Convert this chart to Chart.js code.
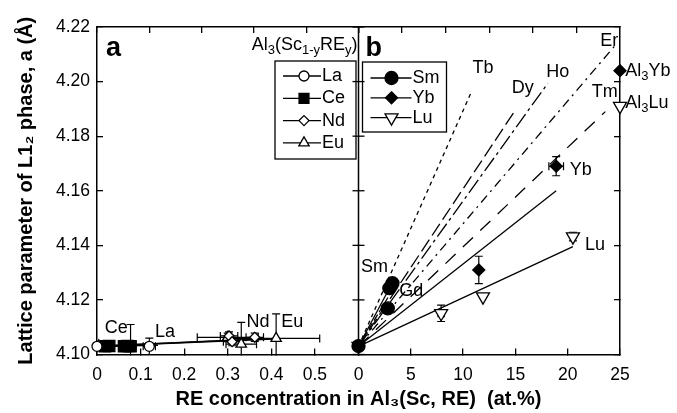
<!DOCTYPE html>
<html><head><meta charset="utf-8">
<script src="https://cdn.jsdelivr.net/npm/chart.js@4.4.1/dist/chart.umd.min.js"></script>
<style>html,body{margin:0;padding:0;background:#fff;}#wrap{width:677px;height:413px;}</style>
</head><body><div id="wrap"><canvas id="c" width="677" height="413"></canvas></div>
<script>
// ================= DATA =================
const yTicks  = [4.10, 4.12, 4.14, 4.16, 4.18, 4.20, 4.22];
const xTicksA = [0, 0.1, 0.2, 0.3, 0.4, 0.5];
const xTicksB = [0, 5, 10, 15, 20, 25];

// panel a : Al3(Sc1-yREy) measured points
const laX = [0, 0.12],            laY = [4.1030, 4.1030];
const laYErr = [0, 0.003],        laXErr = [0, 0.014];
const ceX = [0.018, 0.028, 0.062, 0.070, 0.077], ceY = [4.1030, 4.1031, 4.1030, 4.1031, 4.1030];
const ceYErr = [0, 0, 0, 0, 0.008],            ceXErr = [0.010, 0.010, 0.012, 0.012, 0.012];
const ndX = [0.303, 0.310, 0.362], ndY = [4.1068, 4.1047, 4.1063];
const ndYErr = [0.0015, 0.0015, 0.0015], ndXErr = [0.02, 0.02, 0.02];
const euX = [0.004, 0.300, 0.331, 0.411], euY = [4.1032, 4.1063, 4.1038, 4.1059];
const euYErr = [0, 0.0015, 0.008, 0.009], euXErr = [0, 0.07, 0.035, 0.10];
// panel a fit lines
const laFitX = [0, 0.14],  laFitY = [4.1030, 4.1034];
const ceFitX = [0, 0.09],  ceFitY = [4.1030, 4.1031];
const ndFitX = [0, 0.37],  ndFitY = [4.1030, 4.1057];
const euFitX = [0, 0.42],  euFitY = [4.1030, 4.1058];

// panel b : Al3(Sc,RE) measured points
const smX = [0, 2.8, 2.95, 3.25],  smY = [4.1031, 4.1169, 4.1243, 4.1261];
const ybX = [0, 11.5, 18.9],       ybY = [4.1031, 4.1310, 4.1690];
const ybYErr = [0, 0.005, 0.0035], ybXErr = [0, 0, 0.7];
const luX = [0, 7.9, 11.9, 20.5],  luY = [4.1031, 4.1151, 4.1212, 4.1432];
const luYErr = [0, 0.003, 0, 0.0016], luXErr = [0, 0.3, 0, 0];
const al3X = [25], al3YbY = [4.204], al3LuY = [4.191];
// panel b fit lines
const smFitX = [0, 3.4],  smFitY = [4.103, 4.1275];
const ybFitX = [0, 18.9], ybFitY = [4.103, 4.160];
const luFitX = [0, 20.5], luFitY = [4.103, 4.1395];
// panel b predicted lines
const gdX = [0, 3.7],   gdY = [4.103, 4.1265];
const tbX = [0, 10.8],  tbY = [4.103, 4.1963];
const dyX = [0, 15.0],  dyY = [4.103, 4.1896];
const hoX = [0, 18.1],  hoY = [4.103, 4.1994];
const erX = [0, 24.7],  erY = [4.103, 4.2140];
const tmX = [0, 23.6],  tmY = [4.103, 4.1890];

// text
const yTitle = 'Lattice parameter of L1\u2082 phase, a (\u00C5)';
const xTitle = 'RE concentration in Al\u2083(Sc, RE)  (at.%)';
const legendATitle = [['Al'],['3',1],['(Sc'],['1-y',1],['RE'],['y',1],[')']];

// ================= CHART =================
const F = '"Liberation Sans", Arial, Helvetica, sans-serif';
const pts = (xs, ys) => xs.map((x, i) => ({x, y: ys[i]}));

function mk(label, xs, ys, axis, style, r, fill, extra) {
  return Object.assign({label, type:'scatter', data: pts(xs, ys), xAxisID: axis, yAxisID: 'y',
    pointStyle: style, pointRadius: r, pointHoverRadius: r, pointBackgroundColor: fill,
    pointBorderColor: '#000', pointBorderWidth: 1.3, showLine: false, clip: false, order: 1}, extra || {});
}
function ln(xs, ys, axis, dash, w) {
  return {type:'scatter', data: pts(xs, ys), xAxisID: axis, yAxisID: 'y', showLine: true, pointRadius: 0,
    borderColor: '#000', borderWidth: w || 1.3, borderDash: dash || [], fill: false, order: 2, clip: false};
}

const datasets = [
  mk('La', laX, laY, 'x', 'circle', 5, '#fff', {errY: laYErr, errX: laXErr}),
  mk('Ce', ceX, ceY, 'x', 'rect', 8, '#000', {errY: ceYErr, errX: ceXErr}),
  mk('Nd', ndX, ndY, 'x', 'rectRot', 5, '#fff', {errY: ndYErr, errX: ndXErr}),
  mk('Eu', euX, euY, 'x', 'triangle', 6, '#fff', {errY: euYErr, errX: euXErr}),
  mk('Sm', smX, smY, 'x2', 'circle', 6.5, '#000'),
  mk('Yb', ybX, ybY, 'x2', 'rectRot', 6, '#000', {errY: ybYErr, errX: ybXErr}),
  mk('Lu', luX, luY, 'x2', 'triangle', 7.5, '#fff', {errY: luYErr, errX: luXErr, rotation: 180}),
  mk('Al3Yb', al3X, al3YbY, 'x2', 'rectRot', 6, '#000'),
  mk('Al3Lu', al3X, al3LuY, 'x2', 'triangle', 7.5, '#fff', {rotation: 180}),
  ln(laFitX, laFitY, 'x', [], 1.6), ln(ceFitX, ceFitY, 'x', [], 1.6), ln(ndFitX, ndFitY, 'x', [], 1.6), ln(euFitX, euFitY, 'x', [], 1.6),
  ln(smFitX, smFitY, 'x2'), ln(ybFitX, ybFitY, 'x2'), ln(luFitX, luFitY, 'x2'),
  ln(gdX, gdY, 'x2', [7, 3]),
  ln(tbX, tbY, 'x2', [4, 4]),
  ln(dyX, dyY, 'x2', [14, 5]),
  ln(hoX, hoY, 'x2', [16, 4, 3, 4]),
  ln(erX, erY, 'x2', [9, 5, 2, 5]),
  ln(tmX, tmY, 'x2', [14, 10])
];

const tickFont = {family: F, size: 17.5};
const titleFont = {family: F, size: 20, weight: 'bold'};
const gridIn = {display: true, drawOnChartArea: false, drawTicks: true, tickLength: -6, color: '#000', lineWidth: 1.3};
const border = {display: true, color: '#000', width: 1.5};
const setTicks = arr => s => { s.ticks = arr.map(v => ({value: v})); };
const fmt = v => (Math.round(v * 100) / 100).toString();

function xAxis(pos, stack, max, ticksArr, showLabels, h) {
  return {type: 'linear', position: pos, stack, stackWeight: 1, min: 0, max,
    afterBuildTicks: setTicks(ticksArr),
    ticks: {display: showLabels, font: tickFont, color: '#000', padding: 16, maxRotation: 0, autoSkip: false,
      callback: v => fmt(v)},
    grid: gridIn, border, afterFit: s => { s.height = h; }};
}

// annotations (data coordinates, left aligned)
const annotations = [
  {axis: 'x',  x: 0.018, y: 4.1097, t: [['Ce']]},
  {axis: 'x',  x: 0.133, y: 4.1084, t: [['La']]},
  {axis: 'x',  x: 0.343, y: 4.1120, t: [['Nd']]},
  {axis: 'x',  x: 0.4225, y: 4.1119, t: [['Eu']]},
  {axis: 'x2', x: 10.9, y: 4.2048, t: [['Tb']]},
  {axis: 'x2', x: 14.65, y: 4.1978, t: [['Dy']]},
  {axis: 'x2', x: 17.95, y: 4.2036, t: [['Ho']]},
  {axis: 'x2', x: 23.1, y: 4.2150, t: [['Er']]},
  {axis: 'x2', x: 22.3, y: 4.1963, t: [['Tm']]},
  {axis: 'x2', x: 0.25, y: 4.1320, t: [['Sm']]},
  {axis: 'x2', x: 3.9, y: 4.1232, t: [['Gd']]},
  {axis: 'x2', x: 20.2, y: 4.1676, t: [['Yb']]},
  {axis: 'x2', x: 21.65, y: 4.1401, t: [['Lu']]},
  {axis: 'x2', x: 25.5, y: 4.2039, t: [['Al'], ['3', 1], ['Yb']]},
  {axis: 'x2', x: 25.5, y: 4.1923, t: [['Al'], ['3', 1], ['Lu']]}
];

function richWidth(ctx, segs, size) {
  let w = 0;
  for (const s of segs) { ctx.font = (s[1] ? Math.round(size * 0.7) : size) + 'px ' + F; w += ctx.measureText(s[0]).width; }
  return w;
}
function drawRich(ctx, segs, x, y, size, align) {
  let w = richWidth(ctx, segs, size);
  let cx = align === 'right' ? x - w : x;
  ctx.textBaseline = 'middle'; ctx.textAlign = 'left'; ctx.fillStyle = '#000';
  for (const s of segs) {
    const sub = !!s[1];
    ctx.font = (sub ? Math.round(size * 0.7) : size) + 'px ' + F;
    ctx.fillText(s[0], cx, sub ? y + size * 0.3 : y);
    cx += ctx.measureText(s[0]).width;
  }
}
function marker(ctx, style, x, y, r, fill, rot) {
  ctx.save(); ctx.beginPath(); ctx.lineWidth = 1.3; ctx.strokeStyle = '#000'; ctx.fillStyle = fill;
  ctx.translate(x, y); if (rot) ctx.rotate(rot * Math.PI / 180);
  if (style === 'circle') ctx.arc(0, 0, r, 0, Math.PI * 2);
  else if (style === 'rect') { const s = r * Math.SQRT1_2; ctx.rect(-s, -s, 2 * s, 2 * s); }
  else if (style === 'rectRot') { ctx.moveTo(0, -r); ctx.lineTo(r, 0); ctx.lineTo(0, r); ctx.lineTo(-r, 0); ctx.closePath(); }
  else if (style === 'triangle') { for (let k = 0; k < 3; k++) { const a = -Math.PI / 2 + k * 2 * Math.PI / 3; k ? ctx.lineTo(r * Math.cos(a), r * Math.sin(a)) : ctx.moveTo(r * Math.cos(a), r * Math.sin(a)); } ctx.closePath(); }
  ctx.fill(); ctx.stroke(); ctx.restore();
}

const deco = {
  id: 'deco',
  beforeDatasetsDraw(chart) {
    const ctx = chart.ctx, ca = chart.chartArea, ys = chart.scales.y;
    ctx.save(); ctx.beginPath(); ctx.rect(ca.left, ca.top, ca.right - ca.left, ca.bottom - ca.top + 1); ctx.clip();
    ctx.strokeStyle = '#000'; ctx.lineWidth = 1.2;
    chart.data.datasets.forEach(ds => {
      if (!ds.errY && !ds.errX) return;
      const xs = chart.scales[ds.xAxisID];
      ds.data.forEach((p, i) => {
        const px = xs.getPixelForValue(p.x), py = ys.getPixelForValue(p.y);
        const ey = ds.errY ? ds.errY[i] : 0, ex = ds.errX ? ds.errX[i] : 0;
        ctx.beginPath();
        if (ey) {
          const a = ys.getPixelForValue(p.y + ey), b = ys.getPixelForValue(p.y - ey);
          ctx.moveTo(px, a); ctx.lineTo(px, b);
          ctx.moveTo(px - 4, a); ctx.lineTo(px + 4, a);
          ctx.moveTo(px - 4, b); ctx.lineTo(px + 4, b);
        }
        if (ex) {
          const a = xs.getPixelForValue(p.x - ex), b = xs.getPixelForValue(p.x + ex);
          ctx.moveTo(a, py); ctx.lineTo(b, py);
          ctx.moveTo(a, py - 4); ctx.lineTo(a, py + 4);
          ctx.moveTo(b, py - 4); ctx.lineTo(b, py + 4);
        }
        ctx.stroke();
      });
    });
    ctx.restore();
  },
  afterDraw(chart) {
    const ctx = chart.ctx, ca = chart.chartArea, ys = chart.scales.y;
    ctx.save();
    // divider between panels
    const dx = chart.scales.x2.left;
    ctx.strokeStyle = '#000'; ctx.lineWidth = 1.5;
    ctx.beginPath(); ctx.moveTo(dx, ca.top); ctx.lineTo(dx, ca.bottom); ctx.stroke();
    ctx.lineWidth = 1.3;
    yTicks.forEach(v => { const py = ys.getPixelForValue(v); ctx.beginPath(); ctx.moveTo(dx - 6, py); ctx.lineTo(dx + 6, py); ctx.stroke(); });
    // panel labels
    ctx.fillStyle = '#000'; ctx.font = 'bold 27px ' + F; ctx.textAlign = 'left'; ctx.textBaseline = 'alphabetic';
    ctx.fillText('a', ca.left + 9, ca.top + 29);
    ctx.fillText('b', dx + 7, ca.top + 29);
    // annotations
    annotations.forEach(a => {
      const px = chart.scales[a.axis].getPixelForValue(a.x), py = ys.getPixelForValue(a.y);
      drawRich(ctx, a.t, px, py, 18, 'left');
    });
    // legends
    const dsBy = l => chart.data.datasets.find(d => d.label === l);
    const drawLegend = (labels, bx, by, bw, bh, y0, step, lx0, lx1, mx, tx) => {
      ctx.lineWidth = 1.3; ctx.strokeStyle = '#000';
      ctx.strokeRect(bx, by, bw, bh);
      labels.forEach((l, i) => {
        const d = dsBy(l), yy = y0 + i * step;
        ctx.beginPath(); ctx.lineWidth = 1.3; ctx.moveTo(lx0, yy); ctx.lineTo(lx1, yy); ctx.stroke();
        marker(ctx, d.pointStyle, mx, yy, l === 'Ce' ? 7 : d.pointRadius, d.pointBackgroundColor, d.rotation);
        drawRich(ctx, [[l]], tx, yy, 18, 'left');
      });
    };
    drawRich(ctx, legendATitle, dx - 1, ca.top + 18, 18, 'right');
    drawLegend(['La', 'Ce', 'Nd', 'Eu'], ca.left + 178, ca.top + 34, 81, 98, ca.top + 49, 22.3, ca.left + 186, ca.left + 224, ca.left + 207, ca.left + 225);
    drawLegend(['Sm', 'Yb', 'Lu'], dx + 4, ca.top + 35, 84, 70, ca.top + 51, 19.8, dx + 12, dx + 53, dx + 33, dx + 54);
    ctx.restore();
  }
};

new Chart(document.getElementById('c'), {
  type: 'scatter',
  data: {datasets},
  options: {
    responsive: false, animation: false, devicePixelRatio: 1,
    layout: {padding: 0},
    plugins: {legend: {display: false}, tooltip: {enabled: false}},
    scales: {
      x:  xAxis('bottom', 'bot', 0.6, xTicksA, true, 28),
      x2: xAxis('bottom', 'bot', 25, xTicksB, true, 28),
      xt: {type: 'linear', position: 'bottom', min: 0, max: 1, ticks: {display: false}, grid: {display: false},
           border: {display: false}, title: {display: true, text: xTitle, font: titleFont, color: '#000', padding: {top: 0, bottom: 2}},
           afterFit: s => { s.height = 30.5; }},
      xta: xAxis('top', 'top', 0.6, xTicksA, false, 27),
      xtb: xAxis('top', 'top', 25, xTicksB, false, 27),
      y: {type: 'linear', position: 'left', min: 4.10, max: 4.22, afterBuildTicks: setTicks(yTicks),
          ticks: {font: tickFont, color: '#000', padding: 13, callback: v => v.toFixed(2)},
          grid: gridIn, border,
          title: {display: true, text: yTitle, font: titleFont, color: '#000', padding: {top: 14, bottom: 0}},
          afterFit: s => { s.width = 97; }},
      y2: {type: 'linear', position: 'right', min: 4.10, max: 4.22, afterBuildTicks: setTicks(yTicks),
          ticks: {display: false}, grid: gridIn, border, afterFit: s => { s.width = 57; }}
    }
  },
  plugins: [deco]
});
</script></body></html>
